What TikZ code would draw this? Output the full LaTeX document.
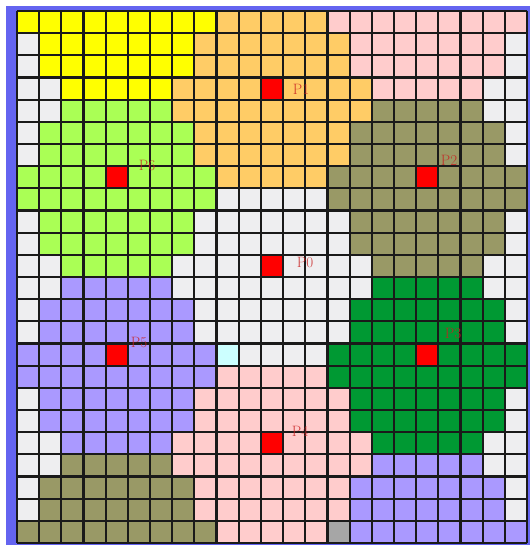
\documentclass[tikz,border=0pt]{standalone}
\usetikzlibrary{calc}
\definecolor{cY}{HTML}{FFFF00}
\definecolor{cO}{HTML}{FFCC66}
\definecolor{cK}{HTML}{FFCCCC}
\definecolor{cW}{HTML}{EEEEF0}
\definecolor{cG}{HTML}{AAFF55}
\definecolor{cD}{HTML}{999966}
\definecolor{cE}{HTML}{009933}
\definecolor{cV}{HTML}{AA99FF}
\definecolor{cC}{HTML}{CCFFFF}
\definecolor{cS}{HTML}{A6A6A6}
\definecolor{cR}{HTML}{FF0000}
\definecolor{frameblue}{HTML}{6464F0}
\definecolor{gridcol}{HTML}{1A1A1A}
\definecolor{labelred}{HTML}{C82020}
\newcommand\cellrun[4]{\fill[#4] ({17+#2*22.174},{11+#1*22.167}) rectangle ({17+(#3+1)*22.174},{11+(#1+1)*22.167});}
\tikzset{
  gridline/.style={draw=gridcol, line width=2.2pt},
  plabel/.style={text=labelred, text opacity=0.85, font=\fontsize{15}{15}\selectfont, inner sep=0pt}
}
\begin{document}
\begin{tikzpicture}[x=1pt,y=-1pt]
\useasboundingbox (0,0) rectangle (530,545);
\fill[white] (0,0) rectangle (530,545);
\fill[frameblue] (6,6) rectangle (530,545);
\fill[cW] (17,11) rectangle (527,543);
% row 0
\cellrun{0}{0}{8}{cY}\cellrun{0}{9}{13}{cO}\cellrun{0}{14}{22}{cK}
\foreach \r in {1,2}{\cellrun{\r}{1}{7}{cY}\cellrun{\r}{8}{14}{cO}\cellrun{\r}{15}{21}{cK}}
\cellrun{3}{2}{6}{cY}\cellrun{3}{7}{15}{cO}\cellrun{3}{16}{20}{cK}
\cellrun{4}{2}{6}{cG}\cellrun{4}{7}{15}{cO}\cellrun{4}{16}{20}{cD}
\foreach \r in {5,6}{\cellrun{\r}{1}{7}{cG}\cellrun{\r}{8}{14}{cO}\cellrun{\r}{15}{21}{cD}}
\cellrun{7}{0}{8}{cG}\cellrun{7}{9}{13}{cO}\cellrun{7}{14}{22}{cD}
\cellrun{8}{0}{8}{cG}\cellrun{8}{14}{22}{cD}
\foreach \r in {9,10}{\cellrun{\r}{1}{7}{cG}\cellrun{\r}{15}{21}{cD}}
\cellrun{11}{2}{6}{cG}\cellrun{11}{16}{20}{cD}
\cellrun{12}{2}{6}{cV}\cellrun{12}{16}{20}{cE}
\foreach \r in {13,14}{\cellrun{\r}{1}{7}{cV}\cellrun{\r}{15}{21}{cE}}
\cellrun{15}{0}{8}{cV}\cellrun{15}{9}{9}{cC}\cellrun{15}{14}{22}{cE}
\cellrun{16}{0}{8}{cV}\cellrun{16}{9}{13}{cK}\cellrun{16}{14}{22}{cE}
\foreach \r in {17,18}{\cellrun{\r}{1}{7}{cV}\cellrun{\r}{8}{14}{cK}\cellrun{\r}{15}{21}{cE}}
\cellrun{19}{2}{6}{cV}\cellrun{19}{7}{15}{cK}\cellrun{19}{16}{20}{cE}
\cellrun{20}{2}{6}{cD}\cellrun{20}{7}{15}{cK}\cellrun{20}{16}{20}{cV}
\foreach \r in {21,22}{\cellrun{\r}{1}{7}{cD}\cellrun{\r}{8}{14}{cK}\cellrun{\r}{15}{21}{cV}}
\cellrun{23}{0}{8}{cD}\cellrun{23}{9}{13}{cK}\cellrun{23}{14}{14}{cS}\cellrun{23}{15}{22}{cV}
% red seed cells
\cellrun{3}{11}{11}{cR}
\cellrun{7}{4}{4}{cR}
\cellrun{7}{18}{18}{cR}
\cellrun{11}{11}{11}{cR}
\cellrun{15}{4}{4}{cR}
\cellrun{15}{18}{18}{cR}
\cellrun{19}{11}{11}{cR}
% grid lines
\foreach \i in {0,...,23}{\draw[gridline] ({17+\i*22.174},11) -- ({17+\i*22.174},543);}
\foreach \j in {0,...,24}{\draw[gridline] (17,{11+\j*22.167}) -- (527,{11+\j*22.167});}
% labels
\node[plabel] (l1) at (301,89) {P1};
\node[plabel] (l6) at (147,165) {P6};
\node[plabel] (l2) at (449,160) {P2};
\node[plabel] (l0) at (305,262) {P0};
\node[plabel] (l5) at (139,342) {P5};
\node[plabel] (l3) at (453,333) {P3};
\node[plabel] (l4) at (300,431) {P4};
\end{tikzpicture}
\end{document}
